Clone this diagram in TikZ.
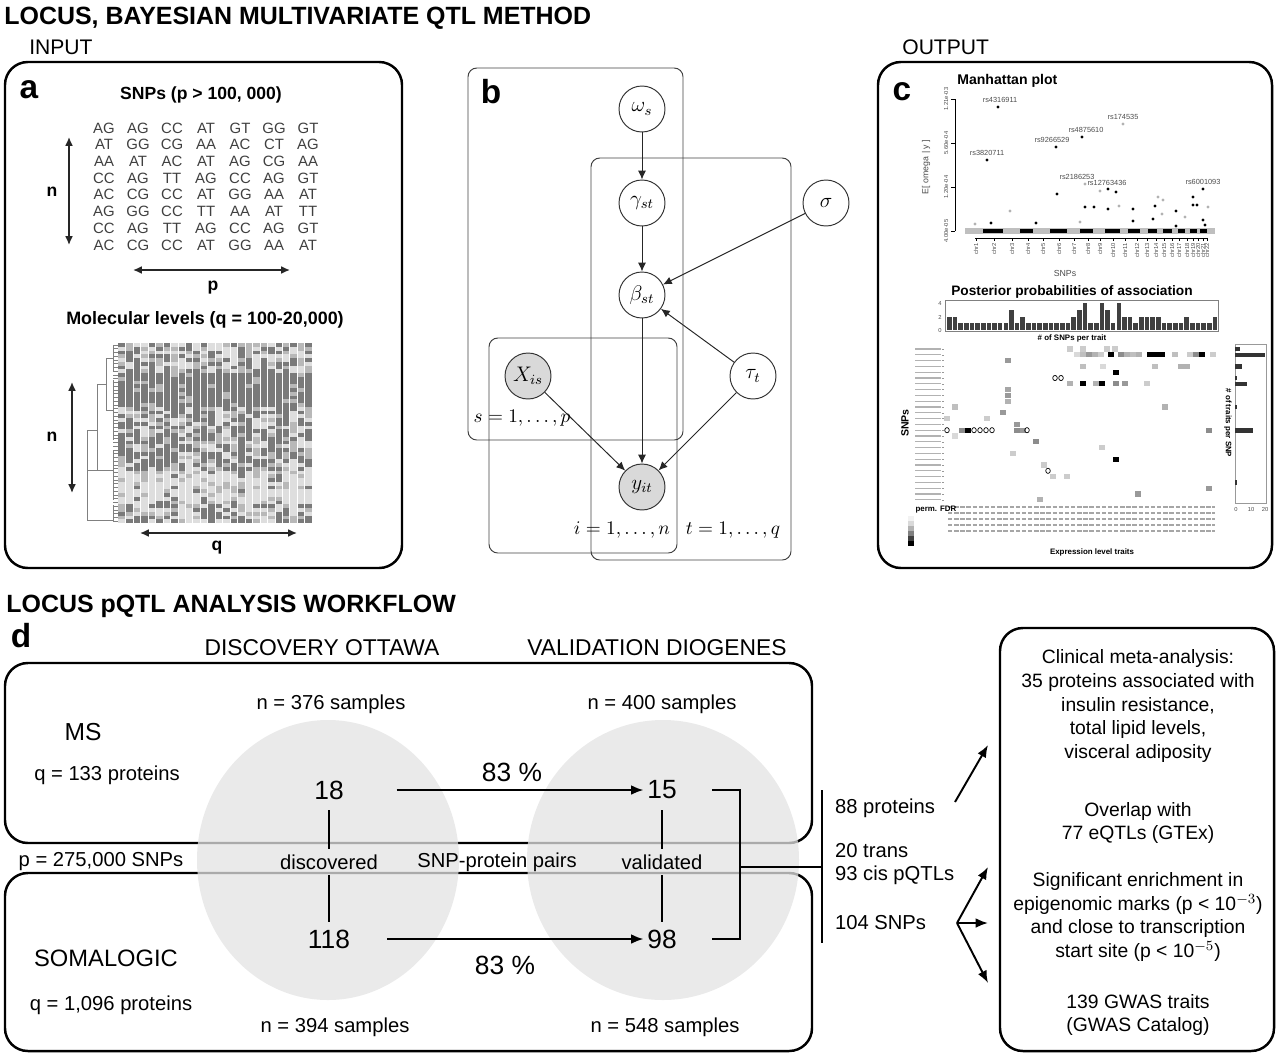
\documentclass[tikz,border=0pt]{standalone}
\usepackage{fontspec}
\setmainfont{Liberation Sans}
\usepackage{amsmath}
\usetikzlibrary{arrows.meta,positioning,shapes.geometric}

\begin{document}
\begin{tikzpicture}[x=0.02cm,y=-0.02cm,
  panel/.style={draw,line width=1.4pt,rounded corners=13pt},
  plate/.style={draw=black!75,line width=0.55pt,rounded corners=5pt},
  rv/.style={circle,draw=black!80,line width=0.55pt,minimum size=0.92cm,inner sep=0pt,font=\fontsize{12}{12}\selectfont},
  obs/.style={rv,fill=black!15},
  edge/.style={-{Latex[length=5pt,width=4.5pt]},line width=0.55pt,black!85},
  dbl/.style={{Latex[length=5pt,width=4.5pt]}-{Latex[length=5pt,width=4.5pt]},line width=0.9pt,black!85},
  flow/.style={-{Latex[length=7pt,width=5.5pt]},line width=1.1pt},
  thickline/.style={line width=1.1pt},
  head/.style={font=\bfseries\fontsize{14.2}{16}\selectfont,anchor=west,inner sep=0pt},
  sub/.style={font=\fontsize{12}{14}\selectfont,inner sep=0pt},
  hd/.style={font=\fontsize{13}{15}\selectfont,inner sep=0pt},
  letter/.style={font=\bfseries\fontsize{19}{20}\selectfont,inner sep=0pt},
  bnine/.style={font=\bfseries\fontsize{10}{11}\selectfont,inner sep=0pt},
  snp/.style={font=\fontsize{8.5}{9}\selectfont,text=black!75,inner sep=0pt},
  txt/.style={font=\fontsize{11.5}{13.4}\selectfont,inner sep=1pt},
  rtxt/.style={font=\fontsize{11}{13.4}\selectfont,align=center,inner sep=0pt},
  num/.style={font=\fontsize{15}{16}\selectfont,inner sep=2pt},
  rslab/.style={font=\fontsize{4.2}{5}\selectfont,text=black!70,inner sep=0pt},
  tinylab/.style={font=\fontsize{3.3}{4}\selectfont,text=black!70,inner sep=0pt},
  tinybold/.style={font=\bfseries\fontsize{4.5}{5}\selectfont,inner sep=0pt},
  dendro/.style={black!50,line width=0.35pt}]
\useasboundingbox (0,0) rectangle (1280,1055);

% ---------- titles
\node[head] (ttl1) at (4,18) {LOCUS, BAYESIAN MULTIVARIATE QTL METHOD};
\node[sub,anchor=west] (input) at (29,47) {INPUT};
\node[sub,anchor=west] (output) at (902,47) {OUTPUT};

% ---------- panel a
\draw[panel] (5,62) rectangle (402,568);
\node[letter] (la) at (29,90) {a};
\node[bnine] (snptitle) at (201,95) {SNPs (p > 100, 000)};
\foreach \row [count=\i] in {{AG,AG,CC,AT,GT,GG,GT},{AT,GG,CG,AA,AC,CT,AG},{AA,AT,AC,AT,AG,CG,AA},{CC,AG,TT,AG,CC,AG,GT},
  {AC,CG,CC,AT,GG,AA,AT},{AG,GG,CC,TT,AA,AT,TT},{CC,AG,TT,AG,CC,AG,GT},{AC,CG,CC,AT,GG,AA,AT}}{
  \foreach \g [count=\j] in \row {\node[snp] (g\i\j) at ({70+34*\j},{111.3+16.7*\i}) {\g};}
}
\coordinate (na1) at (69,137); \coordinate (na2) at (69,245);
\draw[dbl] (na1) -- (na2);
\node[bnine] (nlab1) at (52,192) {n};
\coordinate (pa1) at (133,270); \coordinate (pa2) at (290,270);
\draw[dbl] (pa1) -- (pa2);
\node[bnine] (plab) at (213,288) {p};
\node[bnine,font=\bfseries\fontsize{10.2}{11}\selectfont] (moltitle) at (205,320) {Molecular levels (q = 100-20,000)};
% heatmap
\foreach \r in {0,...,47}{
  \pgfmathsetmacro\pd{\r<8 ? 0.4 : (\r<17 ? 0.88 : (\r<23 ? 0.5 : (\r<34 ? 0.55 : (\r<43 ? 0.1 : 0.42))))}
  \foreach \c in {0,...,25}{
    \pgfmathsetmacro\u{mod(abs(sin(\r*37.3+\c*71.9+\r*\c*3.7))*853,1)}
    \pgfmathsetmacro\cb{0.12*sin(\c*73.1)}
    \pgfmathtruncatemacro\sh{\u<\pd+\cb ? 52 : (\u<\pd+\cb+0.25 ? 28 : 13)}
    \fill[black!\sh] ({118+7.46*\c},{343+3.75*\r}) rectangle ++(7.46,3.75);
  }
  \draw[dendro] (113,{345+3.75*\r}) -- (118,{345+3.75*\r});
}
\foreach \c in {1,...,25}
  \draw[white,line width=0.12pt] ({118+7.46*\c},343) -- ({118+7.46*\c},523);
\draw[dendro] (113,345) -- (113,372) (113,358) -- (106,358) -- (106,410) -- (113,410) (113,380) -- (113,440)
  (106,384) -- (97,384) -- (97,470) (113,450) -- (113,500) (113,470) -- (97,470) (97,430) -- (87,430) -- (87,520)
  (113,505) -- (113,522) (87,520) -- (113,520) (87,470) -- (97,470);
\coordinate (nb1) at (72,382); \coordinate (nb2) at (72,493);
\draw[dbl] (nb1) -- (nb2);
\node[bnine] (nlab2) at (52,437) {n};
\coordinate (qa1) at (140,533); \coordinate (qa2) at (297,533);
\draw[dbl] (qa1) -- (qa2);
\node[bnine] (qlab) at (217,548) {q};

% ---------- panel b
\draw[plate] (468,68) rectangle (683,440);
\draw[plate] (591,158) rectangle (791,560);
\draw[plate] (489,338) rectangle (677,553);
\node[letter] (lb) at (491,92) {b};
\node[rv] (omega) at (642,109) {$\omega_s$};
\node[rv] (gamma) at (642,203) {$\gamma_{st}$};
\node[rv] (beta) at (642,295) {$\beta_{st}$};
\node[rv] (sigma) at (826,203) {$\sigma$};
\node[obs] (xis) at (528,376) {$X_{is}$};
\node[rv] (tau) at (753,376) {$\tau_t$};
\node[obs] (yit) at (642,487) {$y_{it}$};
\draw[edge] (omega) -- (gamma);
\draw[edge] (gamma) -- (beta);
\draw[edge] (sigma) -- (beta);
\draw[edge] (tau) -- (beta);
\draw[edge] (beta) -- (yit);
\draw[edge] (xis) -- (yit);
\draw[edge] (tau) -- (yit);
\node[font=\fontsize{11}{12}\selectfont] (ps) at (522,418) {$s=1,\ldots,p$};
\node[font=\fontsize{11}{12}\selectfont] (pi) at (622,530) {$i=1,\ldots,n$};
\node[font=\fontsize{11}{12}\selectfont] (pt) at (733,530) {$t=1,\ldots,q$};

% ---------- panel c
\draw[panel] (878,62) rectangle (1272,568);
\node[letter] (lc) at (902,92) {c};
\node[font=\bfseries\fontsize{8}{9}\selectfont,anchor=west,inner sep=0pt] (manh) at (957,81) {Manhattan plot};
\draw[line width=0.3pt] (955,99) -- (955,231);
\foreach \yy/\lab [count=\i] in {99/1.21e-03,143/5.60e-04,187/1.20e-04,231/4.00e-05}{
  \draw[line width=0.3pt] (955,\yy) -- (951,\yy);
  \node[tinylab,rotate=90] (yt\i) at (946,\yy) {\lab};
}
\node[rslab,rotate=90,font=\fontsize{5}{6}\selectfont] (ylab) at (926,167) {E[ omega | y ]};
\fill[black!25] (965,228) rectangle (1215,234);
\foreach \a/\b in {983/1003,1020/1033,1050/1067,1080/1093,1105/1120,1128/1140,1148/1157,1163/1172,1178/1185,1190/1197,1200/1207}
  \fill[black] (\a,229) rectangle (\b,233);
\foreach \px/\py in {998/107,987/160,1056/147,1082/137,1057/194,1108/189,1116/192,1203/189,991/223,1036/223,1085/207,1094/207,
  1108/209,1133/209,1133/221,1155/206,1153/219,1176/211,1176/226,1193/197,1193/205,1197/205,1203/220,1205/225}
  \fill[black] (\px,\py) circle [radius=1.7];
\foreach \px/\py in {1123/124,1085/184,1010/211,1158/197,1163/200,1162/214,1208/207,1119/206,1100/191,1185/217,1080/222,975/224}
  \fill[black!30] (\px,\py) circle [radius=1.7];
\foreach \x/\y/\t [count=\i] in {1000/100/rs4316911,987/153/rs3820711,1052/140/rs9266529,1086/130/rs4875610,1123/117/rs174535,
  1077/177/rs2186253,1107/183/rs12763436,1203/182/rs6001093}
  \node[rslab] (rs\i) at (\x,\y) {\t};
\draw[line width=0.3pt] (975,238) -- (1207,238);
\foreach \x [count=\i] in {976,994,1012,1028,1043,1059,1074,1088,1100,1113,1125,1137,1147,1156,1164,1172,1179,1187,1193,1198,1203,1207}{
  \draw[line width=0.3pt] (\x,238) -- (\x,241);
  \node[tinylab,rotate=90,anchor=east] (chr\i) at (\x,243) {chr\i};
}
\node[rslab,font=\fontsize{5}{6}\selectfont] (snpx) at (1065,273) {SNPs};
% posterior probabilities
\node[font=\bfseries\fontsize{7.8}{8}\selectfont,inner sep=0pt] (post) at (1072,292) {Posterior probabilities of association};
\draw[black!50,line width=0.3pt] (945,300) rectangle (1218,331);
\foreach \h [count=\k from 0] in {2,2,1,1,1,1,1,1,1,1,1,3,1,2,1,1,1,1,1,1,1,1,2,3,4,1,1,4,3,1,4,2,2,1,2,2,2,2,1,1,1,1,2,1,1,1,1,2}
  \fill[black!75] ({947+5.65*\k},330) rectangle ++(4.6,{-6.7*\h});
\foreach \v/\yy [count=\i] in {0/330,2/317,4/303}
  \node[tinylab] (bt\i) at (940,\yy) {\v};
\node[tinybold] (spt) at (1072,338) {\# of SNPs per trait};
\foreach \i in {0,...,26}{
  \draw[black!30,line width=0.6pt] (915,{349+5.8*\i}) -- (941,{349+5.8*\i});
  \draw[black!40,line width=0.3pt] (942,{349+5.8*\i}) -- (944,{349+5.8*\i});
}
\foreach \xx/\rr/\cc in {1070/1/black!20,1083/1/black!20,1107/1/black!20,1115/1/black!20,
  1077/2/black!15,1083/2/black!25,1089/2/black!40,1095/2/black!30,1101/2/black!20,1111/2/black,1121/2/black!45,1127/2/black!30,
  1133/2/black!25,1139/2/black!30,1150/2/black,1156/2/black,1162/2/black,1175/2/black!25,1190/2/black!20,1196/2/black!45,1202/2/black,1213/2/black!20,
  1008/3/black!40,1083/4/black!25,1103/4/black!15,1155/4/black!25,1181/4/black!30,1187/4/black!30,1116/5/black,
  1070/7/black!30,1083/7/black,1096/7/black!30,1102/7/black,1116/7/black!45,1125/7/black!40,1147/7/black!20,
  1008/8/black!35,1008/9/black!40,1008/10/black!30,955/11/black!25,1165/11/black!30,1003/12/black!40,947/13/black!20,987/13/black!20,
  1017/14/black!40,962/15/black!45,968/15/black,1017/15/black!45,1023/15/black!40,1209/15/black!45,955/16/black!15,1036/17/black!45,
  1102/18/black!20,1013/19/black!20,1116/20/black,1044/21/black!20,1053/23/black!20,1067/23/black!20,1209/25/black!40,1138/26/black!40,1040/27/black!30}
  \fill[\cc] ({\xx-3},{349+5.8*(\rr-1)-2.6}) rectangle ++(6,5.2);
\foreach \xx/\rr in {947/15,974/15,980/15,986/15,992/15,1027/15,1055/6,1061/6,1048/22}
  \draw[line width=0.4pt] (\xx,{349+5.8*(\rr-1)}) circle [x radius=2.3,y radius=2.6];
\draw[black!40,line width=0.3pt] (1235,344) rectangle (1266,503);
\foreach \rr/\len in {1/5,2/30,4/7,6/2,7/12,11/2,15/18,24/2}
  \fill[black!80] (1235,{349+5.8*(\rr-1)-2.3}) rectangle ++(\len,4.6);
\foreach \v/\xx [count=\i] in {0/1236,10/1251,20/1265}
  \node[tinylab] (rt\i) at (\xx,509) {\v};
\node[tinybold,rotate=-90] (tps) at (1228,423) {\# of traits per SNP};
\node[font=\bfseries\fontsize{6}{7}\selectfont,rotate=90,inner sep=0pt] (snpy) at (905,423) {SNPs};
\foreach \k in {0,...,4}
  \draw[black!35,line width=0.9pt,dash pattern=on 2.5pt off 1pt] (948,{507+6*\k}) -- (1215,{507+6*\k});
\node[tinybold] (fdr) at (936,510) {perm. FDR};
\foreach \s [count=\k from 0] in {5,15,30,50,75,100}
  \fill[black!\s] (908,{516+5*\k}) rectangle ++(6,5);
\node[tinybold] (elt) at (1092,552) {Expression level traits};

% ---------- panel d
\node[head] (ttl2) at (6,606) {LOCUS pQTL ANALYSIS WORKFLOW};
\node[letter] (ld) at (21,636) {d};
\node[hd] (disc) at (322,648) {DISCOVERY OTTAWA};
\node[hd] (vali) at (657,648) {VALIDATION DIOGENES};
\draw[panel] (5,663) rectangle (812,843);
\draw[panel] (5,873) rectangle (812,1051);
\draw[panel] (1000,628) rectangle (1274,1051);
\fill[black!11,fill opacity=0.75] (328,860) ellipse [x radius=131,y radius=140];
\fill[black!11,fill opacity=0.75] (663,860) ellipse [x radius=136,y radius=140];
\node[txt] (n376) at (331,704) {n = 376 samples};
\node[txt] (n400) at (662,704) {n = 400 samples};
\node[txt] (n394) at (335,1027) {n = 394 samples};
\node[txt] (n548) at (665,1027) {n = 548 samples};
\node[font=\fontsize{14}{15}\selectfont] (ms) at (83,732) {MS};
\node[txt] (q133) at (107,775) {q = 133 proteins};
\node[font=\fontsize{13.5}{15}\selectfont] (soma) at (106,958) {SOMALOGIC};
\node[txt] (q1096) at (111,1005) {q = 1,096 proteins};
\node[txt] (p275) at (101,862) {p = 275,000 SNPs};
\node[txt] (discd) at (329,862) {discovered};
\node[txt] (pairs) at (497,862) {SNP-protein pairs};
\node[txt] (valid) at (662,862) {validated};
\node[num] (n18) at (329,790) {18};
\node[num] (n15) at (662,790) {15};
\node[num] (n118) at (329,939) {118};
\node[num] (n98) at (662,939) {98};
\node[num] (pc1) at (512,772) {83 \%};
\node[num] (pc2) at (505,965) {83 \%};
\draw[flow,shorten <=28pt] (n18.east) -- (n15.west);
\draw[flow,shorten <=19pt] (n118.east) -- (n98.west);
\draw[thickline,shorten <=4pt,shorten >=2pt] (n18.south) -- (discd.north);
\draw[thickline,shorten <=2pt,shorten >=2pt] (discd.south) -- (n118.north);
\draw[thickline,shorten <=4pt,shorten >=2pt] (n15.south) -- (valid.north);
\draw[thickline,shorten <=2pt,shorten >=2pt] (valid.south) -- (n98.north);
\coordinate (brk) at (740,867);
\coordinate (hub) at (822,867);
\draw[thickline] ([xshift=18pt]n15.east) -- ++(28,0) |- ([xshift=18pt]n98.east);
\draw[thickline] (brk) -- (hub);
\coordinate (bartop) at (822,790); \coordinate (barbot) at (822,943);
\draw[thickline] (bartop) -- (barbot);
\node[txt,anchor=west] (p88) at (833,808) {88 proteins};
\node[txt,anchor=west,align=left] (trans) at (833,864) {20 trans\\93 cis pQTLs};
\node[txt,anchor=west] (s104) at (833,923) {104 SNPs};
\coordinate (up1) at (955,802); \coordinate (cl1) at (988,745);
\draw[flow] (up1) -- (cl1);
\coordinate (fan) at (957,923);
\coordinate (to1) at (988,867); \coordinate (to2) at (988,923); \coordinate (to3) at (988,983);
\draw[flow] (fan) -- (to1);
\draw[flow] (fan) -- (to2);
\draw[flow] (fan) -- (to3);
\node[rtxt] (clin) at (1138,706) {Clinical meta-analysis:\\35 proteins associated with\\insulin resistance,\\total lipid levels,\\visceral adiposity};
\node[rtxt] (ovl) at (1138,823) {Overlap with\\77 eQTLs (GTEx)};
\node[rtxt] (enr) at (1138,917) {Significant enrichment in\\epigenomic marks (p < 10$^{-3}$)\\and close to transcription\\start site (p < 10$^{-5}$)};
\node[rtxt] (gwas) at (1138,1015) {139 GWAS traits\\(GWAS Catalog)};
\end{tikzpicture}
\end{document}
